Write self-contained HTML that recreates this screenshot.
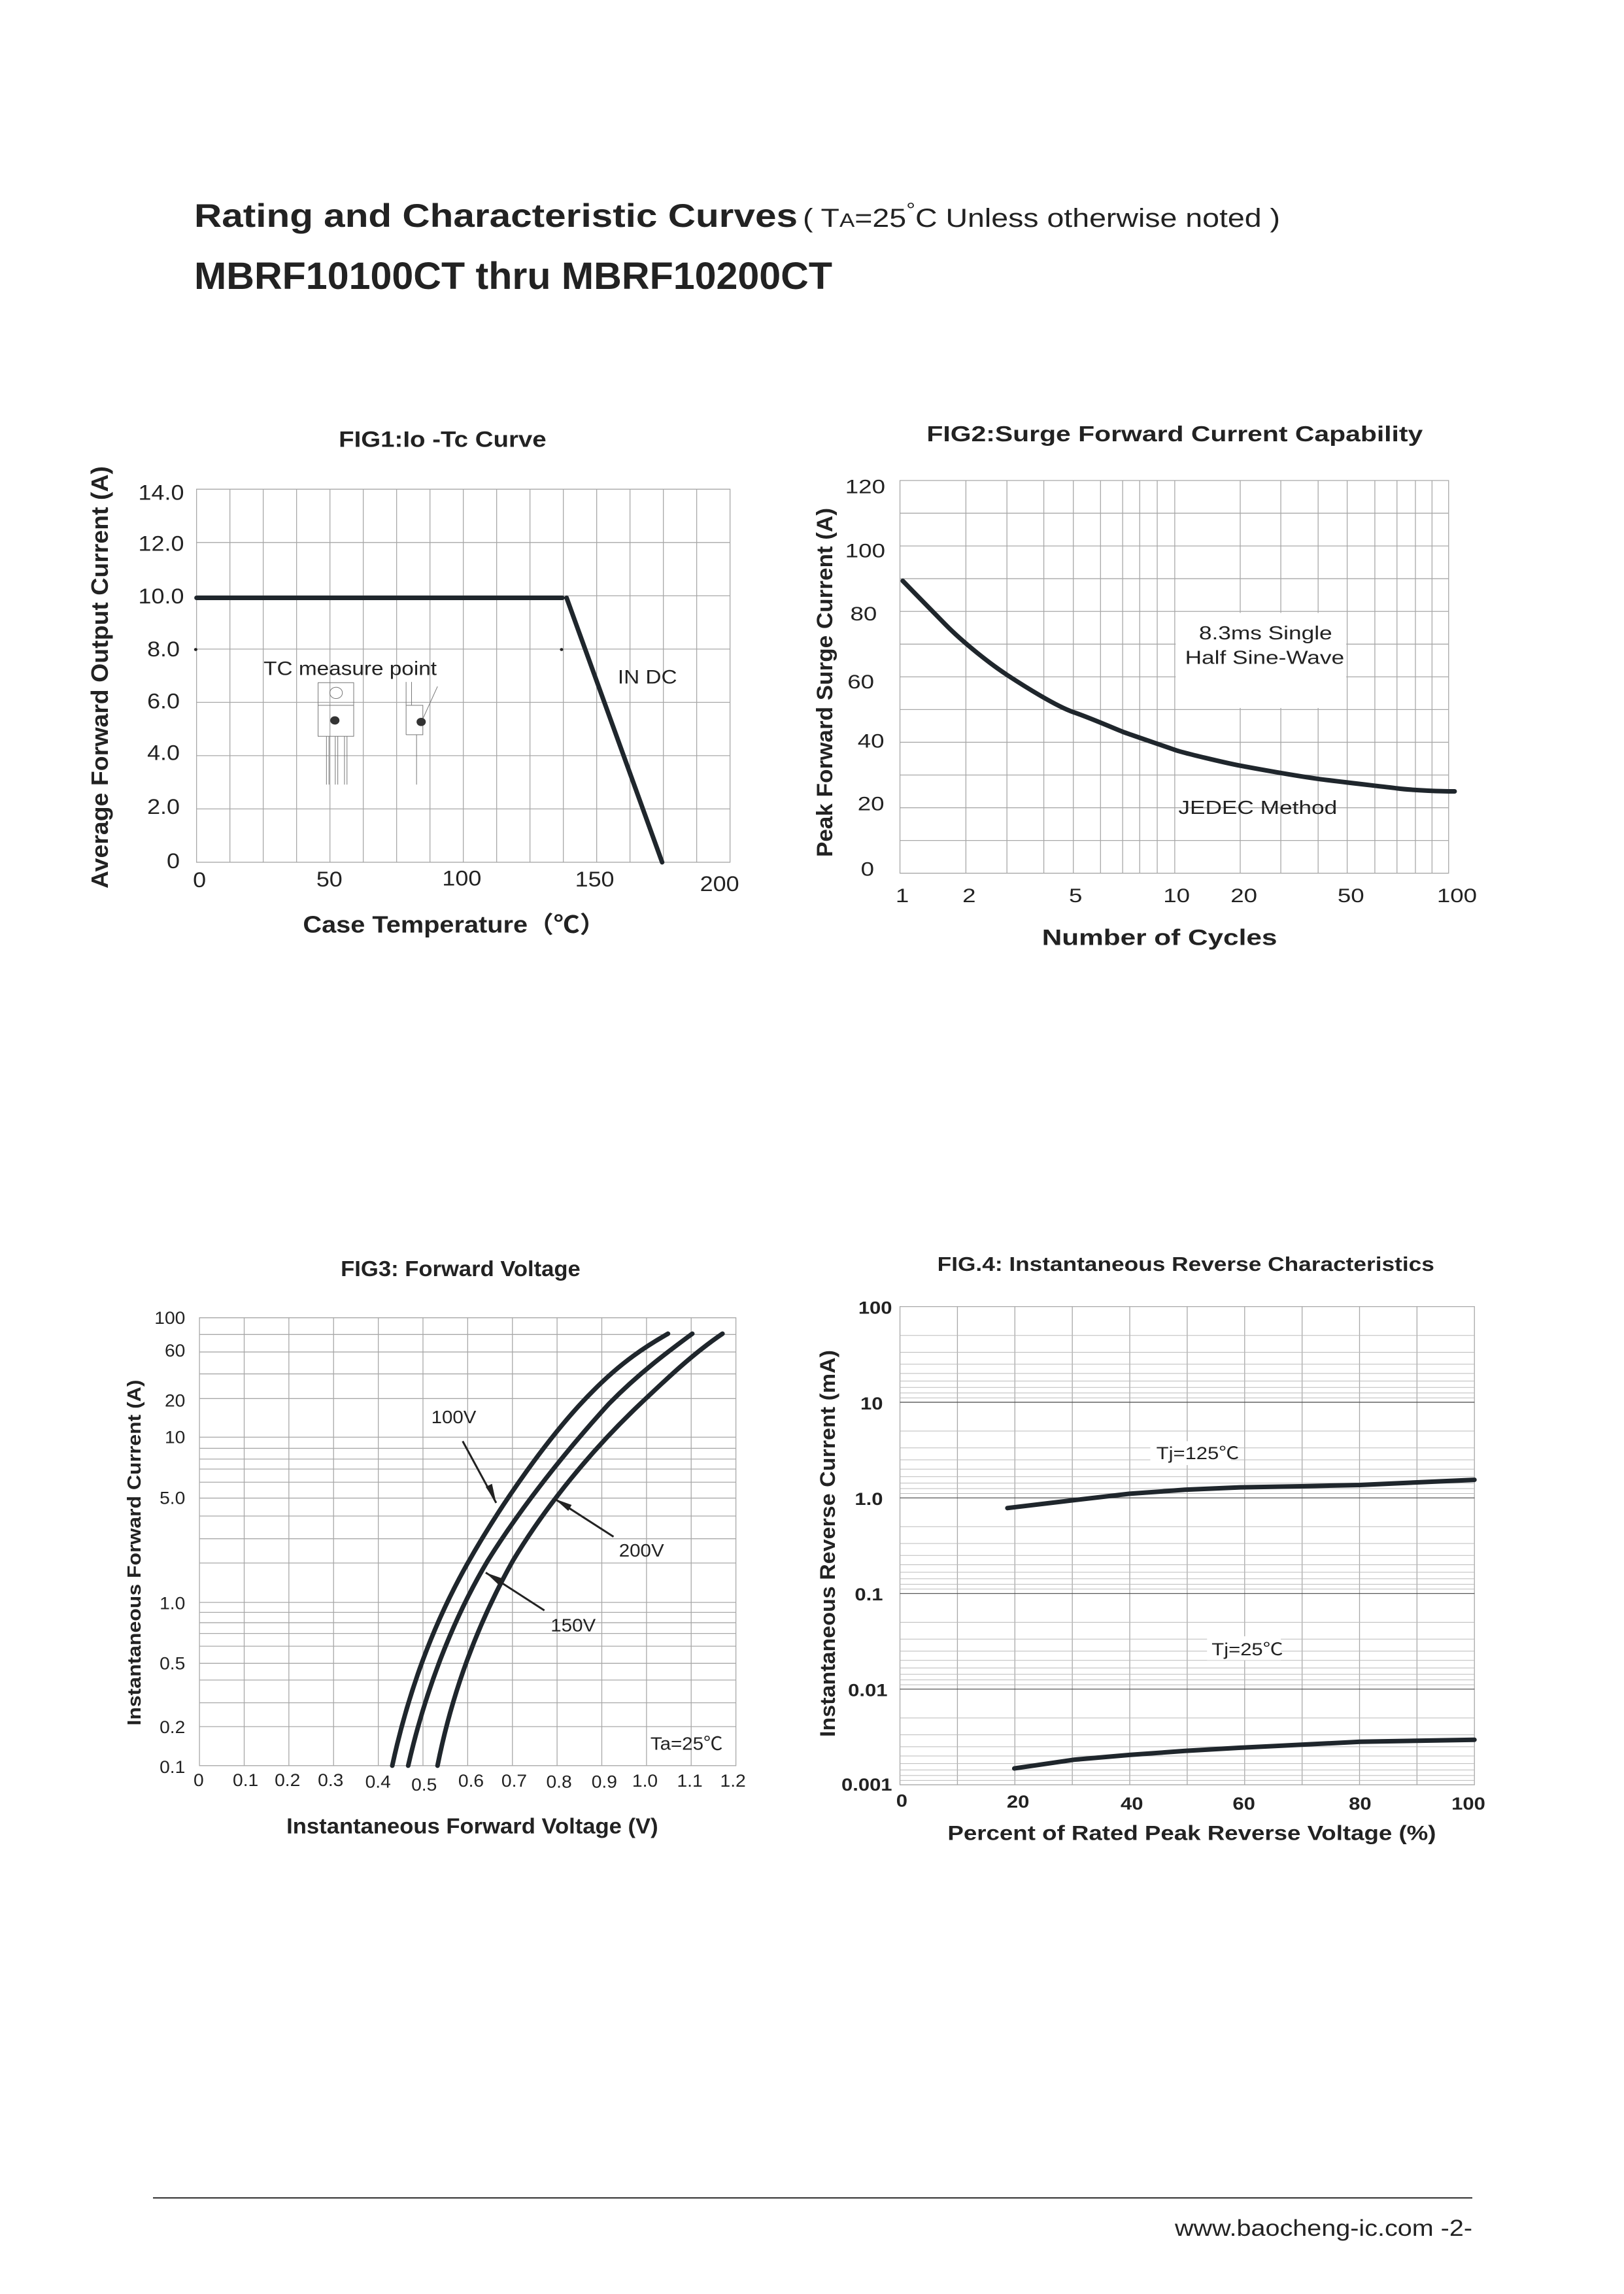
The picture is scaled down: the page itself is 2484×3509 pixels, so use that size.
<!DOCTYPE html>
<html><head><meta charset="utf-8"><style>
html,body{margin:0;padding:0;background:#fff;}
svg{display:block;}
text{font-family:"Liberation Sans","Noto Sans CJK SC",sans-serif;fill:#222;}
.b{font-weight:bold;}
.g{stroke:#a8a8a8;stroke-width:1.3;fill:none;}
.c{stroke:#1f262c;fill:none;stroke-linecap:round;stroke-linejoin:round;}
</style></head><body>
<svg width="2484" height="3509" viewBox="0 0 2484 3509" xmlns="http://www.w3.org/2000/svg">
<rect width="2484" height="3509" fill="#fff"/>
<text x="297" y="347" class="b" font-size="50" textLength="923" lengthAdjust="spacingAndGlyphs">Rating and Characteristic Curves</text>
<text x="1228" y="347" font-size="40" textLength="730" lengthAdjust="spacingAndGlyphs">( T<tspan font-size="30">A</tspan>=25<tspan dy="-16" font-size="30">°</tspan><tspan dy="16">C Unless otherwise noted )</tspan></text>
<text x="297" y="442" class="b" font-size="58" textLength="976" lengthAdjust="spacingAndGlyphs">MBRF10100CT  thru MBRF10200CT</text>

<text transform="translate(165,1036) rotate(-90)" text-anchor="middle" class="b" font-size="36" textLength="646" lengthAdjust="spacingAndGlyphs">Average Forward Output Current (A)</text>
<text transform="translate(1273,1044) rotate(-90)" text-anchor="middle" class="b" font-size="34" textLength="534" lengthAdjust="spacingAndGlyphs">Peak Forward Surge Current (A)</text>
<text transform="translate(215,2375) rotate(-90)" text-anchor="middle" class="b" font-size="29" textLength="529" lengthAdjust="spacingAndGlyphs">Instantaneous Forward Current (A)</text>
<text transform="translate(1277,2361) rotate(-90)" text-anchor="middle" class="b" font-size="32" textLength="592" lengthAdjust="spacingAndGlyphs">Instantaneous Reverse Current (mA)</text>

<!-- FIG1 -->
<g transform="translate(150,600) scale(0.641,0.577)">
<rect x="235" y="257" width="1273" height="989" fill="none" stroke="#a8a8a8" stroke-width="1.3" vector-effect="non-scaling-stroke"/>
<path class="g" vector-effect="non-scaling-stroke" d="M314.6 257V1246M394.1 257V1246M473.7 257V1246M553.3 257V1246M632.8 257V1246M712.4 257V1246M792 257V1246M871.5 257V1246M951.1 257V1246M1030.6 257V1246M1110.2 257V1246M1189.8 257V1246M1269.3 257V1246M1348.9 257V1246M1428.4 257V1246M235 398.3H1508M235 539.6H1508M235 680.9H1508M235 822.1H1508M235 963.4H1508M235 1104.7H1508"/>
<path class="c" vector-effect="non-scaling-stroke" stroke-width="7" d="M235 545H1108M1118 545L1346 1246"/>
<circle cx="233" cy="682" r="4" fill="#222"/><circle cx="1106" cy="682" r="4" fill="#222"/>
<g fill="none" stroke="#777">
<rect x="525" y="770" width="85" height="142" vector-effect="non-scaling-stroke"/>
<path d="M525 830H610M545 912V1040M566 912V1040M588 912V1040M551 912V1040M572 912V1040M594 912V1040M735 768V908M748 768V830M735 830H775V908H735M760 908V1040M772 873L810 780" vector-effect="non-scaling-stroke"/>
<circle cx="568" cy="797" r="15" vector-effect="non-scaling-stroke"/>
</g>
<circle cx="565" cy="870" r="11" fill="#333"/><circle cx="771" cy="874" r="11" fill="#333"/>
<text x="822" y="145" text-anchor="middle" class="b" font-size="60">FIG1:Io -Tc Curve</text>
<g font-size="56" text-anchor="end">
<text x="205" y="285">14.0</text><text x="205" y="420">12.0</text><text x="205" y="560">10.0</text><text x="195" y="700">8.0</text><text x="195" y="838">6.0</text><text x="195" y="975">4.0</text><text x="195" y="1118">2.0</text><text x="195" y="1262">0</text>
</g>
<g font-size="56" text-anchor="middle">
<text x="242" y="1312">0</text><text x="552" y="1310">50</text><text x="868" y="1308">100</text><text x="1185" y="1310">150</text><text x="1483" y="1322">200</text>
</g>
<text x="850" y="1432" text-anchor="middle" class="b" font-size="62">Case Temperature（℃）</text>
<text x="395" y="750" font-size="52">TC measure point</text>
<text x="1240" y="772" font-size="52">IN DC</text>
</g>

<!-- FIG2 -->
<g transform="translate(1220,600) scale(0.7052,0.577)">
<rect x="222" y="234" width="1190" height="1041" fill="none" stroke="#a8a8a8" stroke-width="1.3" vector-effect="non-scaling-stroke"/>
<path class="g" vector-effect="non-scaling-stroke" d="M365 234V1275M454 234V1275M534 234V1275M598 234V1275M657 234V1275M705 234V1275M742 234V1275M780 234V1275M818 234V1275M960 234V1275M1048 234V1275M1129 234V1275M1192 234V1275M1252 234V1275M1300 234V1275M1340 234V1275M1376 234V1275M222 320.75H1412M222 407.5H1412M222 494.25H1412M222 581H1412M222 667.75H1412M222 754.5H1412M222 841.25H1412M222 928H1412M222 1014.75H1412M222 1101.5H1412M222 1188.25H1412"/>
<rect x="820" y="585" width="370" height="252" fill="#fff"/>
<path class="c" vector-effect="non-scaling-stroke" stroke-width="7" d="M228 500C250 528 280 565 320 615S420 722 455 750S560 832 598 848S690 893 705 900S800 940 818 948S930 983 960 990S1080 1017 1129 1025S1260 1044 1300 1050S1400 1058 1425 1058"/>
<text x="818" y="130" text-anchor="middle" class="b" font-size="58">FIG2:Surge Forward Current Capability</text>
<g font-size="52" text-anchor="end">
<text x="190" y="268">120</text><text x="190" y="438">100</text><text x="172" y="605">80</text><text x="166" y="785">60</text><text x="188" y="942">40</text><text x="188" y="1108">20</text><text x="166" y="1282">0</text>
</g>
<g font-size="52" text-anchor="middle">
<text x="227" y="1352">1</text><text x="372" y="1352">2</text><text x="603" y="1352">5</text><text x="822" y="1352">10</text><text x="968" y="1352">20</text><text x="1200" y="1352">50</text><text x="1430" y="1352">100</text>
</g>
<text x="785" y="1465" text-anchor="middle" class="b" font-size="60">Number of Cycles</text>
<g font-size="50" text-anchor="middle">
<text x="1015" y="655">8.3ms Single</text><text x="1013" y="720">Half Sine-Wave</text><text x="998" y="1118">JEDEC Method</text>
</g>
</g>

<!-- FIG3 -->
<g transform="translate(150,1900) scale(0.641,0.609)">
<rect x="242" y="190" width="1280" height="1125" fill="none" stroke="#a8a8a8" stroke-width="1.3" vector-effect="non-scaling-stroke"/>
<path class="g" vector-effect="non-scaling-stroke" d="M348.7 190V1315M455.3 190V1315M562 190V1315M668.7 190V1315M775.3 190V1315M882 190V1315M988.7 190V1315M1095.3 190V1315M1202 190V1315M1308.7 190V1315M1415.3 190V1315M242 232H1522M242 276H1522M242 331H1522M242 393H1522M242 490H1522M242 518H1522M242 545H1522M242 570H1522M242 603H1522M242 643H1522M242 688H1522M242 745H1522M242 806H1522M242 905H1522M242 930H1522M242 956H1522M242 983H1522M242 1015H1522M242 1058H1522M242 1100H1522M242 1157H1522M242 1217H1522"/>
<path class="c" vector-effect="non-scaling-stroke" stroke-width="7" d="M702 1315C740 1130 800 960 880 810C960 660 1080 480 1180 375C1250 300 1310 260 1360 230"/>
<path class="c" vector-effect="non-scaling-stroke" stroke-width="7" d="M740 1315C780 1130 845 950 930 800C1010 665 1120 520 1220 405C1290 330 1360 275 1418 230"/>
<path class="c" vector-effect="non-scaling-stroke" stroke-width="7" d="M810 1315C845 1130 905 960 990 800C1070 660 1180 520 1290 410C1360 340 1420 280 1490 230"/>
<path stroke="#222" stroke-width="3" vector-effect="non-scaling-stroke" d="M870 500L950 655M1230 740L1090 645M1065 925L925 830"/>
<g fill="#222">
<path d="M950 655L925 615L940 607Z"/><path d="M1090 645L1130 660L1122 675Z"/><path d="M925 830L965 845L957 862Z"/>
</g>
<text x="865" y="85" text-anchor="middle" class="b" font-size="54">FIG3: Forward Voltage</text>
<g font-size="44" text-anchor="end">
<text x="208" y="205">100</text><text x="208" y="287">60</text><text x="208" y="413">20</text><text x="208" y="505">10</text><text x="208" y="658">5.0</text><text x="208" y="922">1.0</text><text x="208" y="1073">0.5</text><text x="208" y="1233">0.2</text><text x="208" y="1333">0.1</text>
</g>
<g font-size="44" text-anchor="middle">
<text x="240" y="1366">0</text><text x="352" y="1366">0.1</text><text x="452" y="1366">0.2</text><text x="555" y="1366">0.3</text><text x="668" y="1370">0.4</text><text x="778" y="1378">0.5</text><text x="890" y="1368">0.6</text><text x="993" y="1368">0.7</text><text x="1100" y="1370">0.8</text><text x="1208" y="1370">0.9</text><text x="1305" y="1368">1.0</text><text x="1412" y="1368">1.1</text><text x="1515" y="1368">1.2</text>
</g>
<text x="893" y="1485" text-anchor="middle" class="b" font-size="54">Instantaneous Forward Voltage (V)</text>
<g font-size="46">
<text x="795" y="455">100V</text><text x="1243" y="790">200V</text><text x="1080" y="978">150V</text><text x="1318" y="1275">Ta=25℃</text>
</g>
</g>

<!-- FIG4 -->
<g transform="translate(1220,1900) scale(0.7052,0.609)">
<rect x="222" y="162" width="1246" height="1201" fill="none" stroke="#a8a8a8" stroke-width="1.3" vector-effect="non-scaling-stroke"/>
<path class="g" vector-effect="non-scaling-stroke" d="M346.6 162V1363M471.2 162V1363M595.8 162V1363M720.4 162V1363M845 162V1363M969.6 162V1363M1094.2 162V1363M1218.8 162V1363M1343.4 162V1363"/>
<path vector-effect="non-scaling-stroke" stroke="#bbb" stroke-width="1" fill="none" d="M222 234.3H1468M222 276.6H1468M222 306.6H1468M222 329.9H1468M222 348.9H1468M222 365H1468M222 378.9H1468M222 391.2H1468M222 474.5H1468M222 516.8H1468M222 546.8H1468M222 570.1H1468M222 589.1H1468M222 605.2H1468M222 619.1H1468M222 631.4H1468M222 714.7H1468M222 757H1468M222 787H1468M222 810.3H1468M222 829.3H1468M222 845.4H1468M222 859.3H1468M222 871.6H1468M222 954.9H1468M222 997.2H1468M222 1027.2H1468M222 1050.5H1468M222 1069.5H1468M222 1085.6H1468M222 1099.5H1468M222 1111.8H1468M222 1195.1H1468M222 1237.4H1468M222 1267.4H1468M222 1290.7H1468M222 1309.7H1468M222 1325.8H1468M222 1339.7H1468M222 1352H1468"/>
<path vector-effect="non-scaling-stroke" stroke="#555" stroke-width="1.3" fill="none" d="M222 402.2H1468M222 642.4H1468M222 882.6H1468M222 1122.8H1468"/>
<path class="c" vector-effect="non-scaling-stroke" stroke-width="7" d="M455 668L600 648L720 632L840 622L960 616L1100 613L1220 610L1468 597"/>
<path class="c" vector-effect="non-scaling-stroke" stroke-width="7" d="M470 1322L600 1300L720 1288L840 1278L960 1270L1100 1262L1220 1255L1468 1250"/>
<rect x="765" y="500" width="175" height="60" fill="#fff"/>
<rect x="888" y="990" width="160" height="60" fill="#fff"/>
<text x="842" y="72" text-anchor="middle" class="b" font-size="50">FIG.4: Instantaneous Reverse Characteristics</text>
<g font-size="44" text-anchor="end" class="b">
<text x="205" y="180">100</text><text x="185" y="420">10</text><text x="185" y="660">1.0</text><text x="185" y="900">0.1</text><text x="195" y="1140">0.01</text><text x="205" y="1378">0.001</text>
</g>
<g font-size="44" text-anchor="middle" class="b">
<text x="226" y="1418">0</text><text x="478" y="1420">20</text><text x="725" y="1425">40</text><text x="968" y="1425">60</text><text x="1220" y="1425">80</text><text x="1455" y="1425">100</text>
</g>
<text x="855" y="1502" text-anchor="middle" class="b" font-size="52">Percent of Rated Peak Reverse Voltage (%)</text>
<g font-size="44">
<text x="778" y="545">Tj=125℃</text><text x="898" y="1038">Tj=25℃</text>
</g>
</g>

<line x1="234" y1="3362" x2="2252" y2="3362" stroke="#333" stroke-width="2"/>
<text x="1797" y="3438" font-size="35" textLength="455" lengthAdjust="spacingAndGlyphs" transform="translate(0,-18)">www.baocheng-ic.com   -2-</text>
</svg>
</body></html>
